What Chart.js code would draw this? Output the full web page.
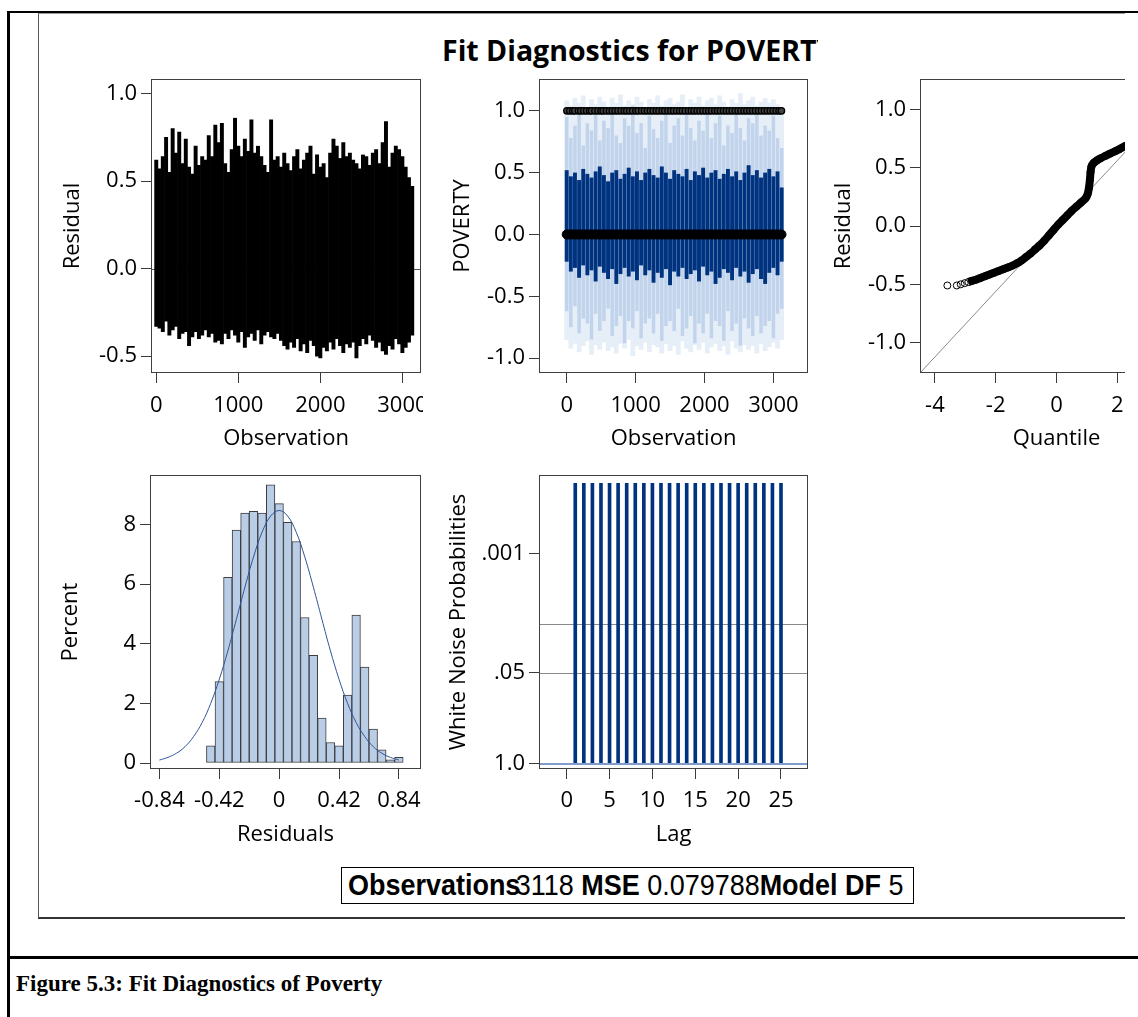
<!DOCTYPE html>
<html>
<head>
<meta charset="utf-8">
<script src="https://cdn.jsdelivr.net/npm/chart.js@4.4.1/dist/chart.umd.min.js"></script>
<style>
  body { margin: 0; background: #fff; width: 1138px; height: 1017px; position: relative; overflow: hidden; }
  .abs { position: absolute; }
  #graph { position: absolute; left: 0; top: 0; width: 1125px; height: 1017px; overflow: hidden; }
  .pan { position: absolute; overflow: hidden; }
  #title { position: absolute; left: 442px; top: 36px; width: 376px; height: 40px; overflow: hidden; white-space: nowrap;
           font: bold 28.5px/28px "Open Sans", sans-serif; color: #000; }
  #stats { position: absolute; left: 341px; top: 867px; width: 571px; height: 35px; border: 1px solid #000; overflow: hidden; }
  #stats .st { position: absolute; left: 6px; top: 1px; white-space: nowrap; font: 29px/33px "Liberation Sans", Arial, sans-serif;
               color: #000; transform: scaleX(0.93); transform-origin: left center; }
  #caption { position: absolute; left: 16px; top: 972px; white-space: nowrap; font: bold 23px/23px "Liberation Serif", "Times New Roman", serif; color: #000; }
</style>
</head>
<body>
<div class="abs" style="left:8px;top:11px;width:1130px;height:2px;background:#000"></div>
<div class="abs" style="left:7px;top:11px;width:3px;height:1006px;background:#000"></div>
<div id="graph">
  <div class="abs" style="left:38px;top:13px;width:1100px;height:903px;border-left:1px solid #555;border-top:1px solid #999;border-bottom:2px solid #333"></div>
  <div id="title">Fit Diagnostics for POVERTY</div>
  <div class="pan" id="p1"><canvas id="c1"></canvas></div>
  <div class="pan" id="p2"><canvas id="c2"></canvas></div>
  <div class="pan" id="p3"><canvas id="c3"></canvas></div>
  <div class="pan" id="p4"><canvas id="c4"></canvas></div>
  <div class="pan" id="p5"><canvas id="c5"></canvas></div>
  <div id="stats"><span class="st"><b>Observations</b><span style="margin-left:-5px">3118</span> <b>MSE</b> 0.079788<b>Model DF</b> 5</span></div>
</div>
<div class="abs" style="left:8px;top:956px;width:1130px;height:3px;background:#000"></div>
<div id="caption">Figure 5.3: Fit Diagnostics of Poverty</div>

<script>
// residuals by observation, sampled every 40 obs (needle tops / bottoms)
const residStep = 40;
const residHi = [0.62,0.57,0.64,0.75,0.55,0.80,0.66,0.78,0.60,0.74,
                 0.58,0.54,0.70,0.59,0.64,0.62,0.76,0.64,0.82,0.72,
                 0.83,0.60,0.55,0.68,0.86,0.70,0.64,0.74,0.67,0.85,
                 0.66,0.70,0.64,0.59,0.55,0.85,0.62,0.64,0.58,0.66,
                 0.60,0.56,0.64,0.68,0.57,0.62,0.66,0.70,0.54,0.65,
                 0.58,0.60,0.52,0.66,0.74,0.70,0.63,0.72,0.64,0.66,
                 0.62,0.60,0.57,0.65,0.64,0.59,0.66,0.68,0.60,0.72,
                 0.84,0.58,0.66,0.70,0.68,0.64,0.58,0.52,0.47];
const residLo = [-0.33,-0.34,-0.36,-0.30,-0.38,-0.35,-0.33,-0.40,-0.37,-0.36,
                 -0.44,-0.39,-0.36,-0.40,-0.38,-0.35,-0.39,-0.37,-0.42,-0.41,
                 -0.43,-0.37,-0.40,-0.35,-0.38,-0.42,-0.36,-0.45,-0.39,-0.37,
                 -0.41,-0.35,-0.43,-0.38,-0.36,-0.39,-0.40,-0.37,-0.41,-0.44,
                 -0.46,-0.42,-0.45,-0.40,-0.47,-0.43,-0.48,-0.41,-0.44,-0.50,
                 -0.51,-0.45,-0.47,-0.42,-0.46,-0.40,-0.44,-0.48,-0.43,-0.45,
                 -0.42,-0.51,-0.44,-0.40,-0.43,-0.38,-0.41,-0.45,-0.42,-0.47,
                 -0.49,-0.44,-0.46,-0.40,-0.43,-0.48,-0.45,-0.42,-0.38];

// predicted POVERTY, sampled every 60 obs: fit band, confidence and prediction limits
const predStep = 60;
const predDarkHi = [0.52,0.47,0.50,0.44,0.53,0.49,0.46,0.51,0.55,0.48,
                    0.43,0.50,0.52,0.45,0.49,0.54,0.47,0.51,0.44,0.50,
                    0.53,0.48,0.46,0.55,0.50,0.45,0.52,0.49,0.47,0.53,
                    0.44,0.51,0.48,0.54,0.46,0.50,0.52,0.45,0.49,0.53,
                    0.47,0.51,0.44,0.50,0.56,0.48,0.52,0.46,0.50,0.53,
                    0.47,0.51,0.38];
const predDarkLo = [-0.22,-0.30,-0.27,-0.35,-0.25,-0.33,-0.29,-0.38,-0.26,-0.31,
                    -0.36,-0.28,-0.40,-0.32,-0.27,-0.34,-0.30,-0.37,-0.25,-0.33,
                    -0.29,-0.39,-0.31,-0.35,-0.28,-0.41,-0.30,-0.34,-0.27,-0.36,
                    -0.32,-0.29,-0.38,-0.26,-0.33,-0.30,-0.40,-0.35,-0.28,-0.31,
                    -0.37,-0.27,-0.34,-0.30,-0.39,-0.32,-0.28,-0.36,-0.40,-0.31,
                    -0.27,-0.33,-0.22];
const predMidHi = [0.95,0.78,0.88,1.02,0.72,0.90,0.84,0.98,0.76,0.92,
                   0.86,1.00,0.80,0.74,0.94,0.88,1.04,0.82,0.90,0.70,
                   0.96,0.85,0.78,0.92,1.00,0.74,0.88,0.94,0.80,0.98,
                   0.86,0.76,0.92,0.84,1.02,0.78,0.90,0.96,0.72,0.88,
                   0.82,0.98,0.86,0.76,0.94,0.90,1.00,0.80,0.88,0.84,
                   0.96,0.78,0.70];
const predMidLo = [-0.62,-0.75,-0.58,-0.80,-0.68,-0.72,-0.85,-0.64,-0.78,-0.70,
                   -0.60,-0.82,-0.74,-0.66,-0.88,-0.70,-0.76,-0.62,-0.84,-0.72,
                   -0.68,-0.80,-0.64,-0.86,-0.74,-0.70,-0.78,-0.60,-0.82,-0.76,
                   -0.66,-0.88,-0.72,-0.80,-0.64,-0.84,-0.70,-0.74,-0.86,-0.62,
                   -0.78,-0.72,-0.90,-0.68,-0.76,-0.82,-0.66,-0.80,-0.74,-0.70,
                   -0.84,-0.64,-0.60];
const predOuterHi = [1.08,1.04,1.10,1.06,1.12,1.02,1.09,1.05,1.11,1.07,
                     1.03,1.10,1.06,1.13,1.04,1.08,1.05,1.11,1.07,1.02,
                     1.09,1.06,1.12,1.04,1.08,1.10,1.05,1.07,1.13,1.03,
                     1.09,1.06,1.11,1.04,1.08,1.10,1.05,1.12,1.07,1.03,
                     1.09,1.06,1.14,1.05,1.08,1.11,1.04,1.07,1.10,1.06,
                     1.09,1.05,1.02];
const predOuterLo = [-0.85,-0.92,-0.88,-0.95,-0.90,-0.86,-0.97,-0.89,-0.93,-0.87,
                     -0.94,-0.91,-0.96,-0.88,-0.92,-0.85,-0.98,-0.90,-0.93,-0.87,
                     -0.95,-0.89,-0.91,-0.96,-0.88,-0.94,-0.90,-0.97,-0.86,-0.92,
                     -0.95,-0.89,-0.93,-0.87,-0.96,-0.91,-0.88,-0.94,-0.90,-0.97,
                     -0.86,-0.92,-0.95,-0.89,-0.93,-0.90,-0.96,-0.88,-0.94,-0.91,
                     -0.87,-0.92,-0.85];

// observed POVERTY = 1 / = 0 (observation numbers)
const povOneObs = [3,45,88,120,171,205,248,290,333,362,410,455,498,530,577,620,661,703,745,790,
                   835,872,915,958,1004,1040,1088,1130,1172,1215,1256,1301,1340,1386,1425,1470,
                   1512,1553,1597,1640,1680,1722,1768,1810,1850,1893,1936,1978,2021,2063,2105,
                   2150,2190,2232,2276,2318,2360,2402,2447,2488,2530,2574,2615,2658,2700,2742,
                   2785,2827,2870,2912,2955,2997,3040,3082,3116];
const povZeroObs = [0,38,79,121,160,199,242,281,320,361,402,440,481,520,562,600,641,680,722,761,
                    800,842,881,920,961,1002,1040,1081,1120,1162,1200,1241,1280,1322,1361,1400,
                    1442,1481,1520,1561,1602,1640,1681,1720,1762,1800,1841,1880,1922,1961,2000,
                    2042,2081,2120,2161,2202,2240,2281,2320,2362,2400,2441,2480,2522,2561,2600,
                    2642,2681,2720,2761,2802,2840,2881,2920,2962,3000,3041,3080,3118];

// Q-Q plot
const qqQuantile = [-3.59,-3.28,-3.15,-3.02,-2.90,-2.78,-2.65,-2.50,-2.35,-2.20,-2.05,-1.90,-1.75,-1.60,
                    -1.45,-1.30,-1.15,-1.00,-0.85,-0.70,-0.55,-0.40,-0.25,-0.10,0.05,0.20,0.35,0.50,
                    0.65,0.80,0.95,1.02,1.07,1.10,1.12,1.15,1.22,1.32,1.45,1.60,1.76,1.92,2.08,2.25,
                    2.42,2.60,2.85,3.15,3.55];
const qqResidual = [-0.51,-0.51,-0.50,-0.49,-0.48,-0.47,-0.46,-0.445,-0.43,-0.415,-0.40,-0.385,-0.37,-0.355,
                    -0.34,-0.32,-0.295,-0.265,-0.235,-0.20,-0.165,-0.125,-0.08,-0.035,0.01,0.05,0.09,0.13,
                    0.165,0.20,0.235,0.27,0.33,0.40,0.46,0.51,0.54,0.56,0.58,0.60,0.62,0.64,0.66,0.685,
                    0.70,0.72,0.75,0.79,0.84];
const qqRefQ = [-4.49, 4.49];
const qqRefR = [-1.26, 1.26];

// residual histogram (bin midpoints, percent) and normal curve
const histMid = [-0.48,-0.42,-0.36,-0.30,-0.24,-0.18,-0.12,-0.06,0,0.06,0.12,0.18,
                 0.24,0.30,0.36,0.42,0.48,0.54,0.60,0.66,0.72,0.78,0.84];
const histPct = [0.58,2.73,6.23,7.81,8.38,8.44,8.38,9.33,8.70,8.07,7.43,4.88,
                 3.61,1.51,0.69,0.58,2.28,4.96,3.22,1.14,0.44,0.11,0.19];
const normX = [-0.84,-0.78,-0.72,-0.66,-0.60,-0.54,-0.48,-0.42,-0.36,-0.30,-0.24,-0.18,-0.12,-0.06,0,
               0.06,0.12,0.18,0.24,0.30,0.36,0.42,0.48,0.54,0.60,0.66,0.72,0.78,0.84];
const normPct = [0.10,0.19,0.33,0.55,0.89,1.36,2.00,2.81,3.76,4.82,5.90,6.91,7.74,8.28,8.47,
                 8.28,7.74,6.91,5.90,4.82,3.76,2.81,2.00,1.36,0.89,0.55,0.33,0.19,0.10];

// white noise test
const wnLag = [1,2,3,4,5,6,7,8,9,10,11,12,13,14,15,16,17,18,19,20,21,22,23,24,25];
const wnProb = [0.0001,0.0001,0.0001,0.0001,0.0001,0.0001,0.0001,0.0001,0.0001,0.0001,0.0001,0.0001,0.0001,
                0.0001,0.0001,0.0001,0.0001,0.0001,0.0001,0.0001,0.0001,0.0001,0.0001,0.0001,0.0001];
const wnRefP = [0.05, 0.01];

// ticks
const residTicks = [-0.5, 0, 0.5, 1.0];
const obsTicks = [0, 1000, 2000, 3000];
const povTicks = [-1.0, -0.5, 0, 0.5, 1.0];
const qqXTicks = [-4, -2, 0, 2, 4];
const qqYTicks = [-1.0, -0.5, 0, 0.5, 1.0];
const histXTicks = [-0.84, -0.42, 0, 0.42, 0.84];
const histXLabels = ['-0.84', '-0.42', '0', '0.42', '0.84'];
const histYTicks = [0, 2, 4, 6, 8];
const lagTicks = [0, 5, 10, 15, 20, 25];
const wnTickP = [1.0, 0.05, 0.001];
const wnTickLabels = ['1.0', '.05', '.001'];

const FONT = { family: '"Open Sans", sans-serif', size: 22 };
const nlog = p => -Math.log10(p);
const fix1 = v => v.toFixed(1);

const linAxis = (o) => ({
  type: 'linear', position: o.pos, min: o.min, max: o.max, offset: false,
  afterBuildTicks: s => { s.ticks = o.ticks.map(v => ({ value: v })); },
  afterFit: s => {
    // fixed axis size, and no extra room for overhanging labels (they get clipped like the original)
    if (o.pos === 'bottom') s.height = o.size; else s.width = o.size;
    s.paddingLeft = s.paddingRight = s.paddingTop = s.paddingBottom = 0;
  },
  grid: { drawOnChartArea: false, drawTicks: true, tickLength: 10, color: '#3a3a3a', lineWidth: 1, offset: false },
  border: { display: false },
  ticks: { color: '#000', font: FONT, padding: o.pad, autoSkip: false, maxRotation: 0,
           callback: (v, i) => o.labels ? o.labels[i] : o.fmt(v) },
  title: { display: true, text: o.title, color: '#000', font: FONT, padding: 0 }
});

// horizontal reference lines through the y scale
const hLines = (under, over) => ({
  id: 'hLines',
  beforeDatasetsDraw(chart) { drawH(chart, under); },
  afterDatasetsDraw(chart) { drawH(chart, over); }
});
function drawH(chart, list) {
  const { ctx, chartArea: c, scales: { y } } = chart;
  list.forEach(l => {
    let py = Math.round(y.getPixelForValue(l.v));
    if (l.w % 2) py += 0.5;
    ctx.save();
    ctx.strokeStyle = l.c; ctx.lineWidth = l.w;
    ctx.beginPath(); ctx.moveTo(c.left, py); ctx.lineTo(c.right, py); ctx.stroke();
    ctx.restore();
  });
}

const frame = {
  id: 'frame',
  afterDraw(chart) {
    const { ctx, chartArea: a } = chart;
    ctx.save();
    ctx.strokeStyle = '#404040'; ctx.lineWidth = 1;
    ctx.strokeRect(Math.round(a.left) + 0.5, Math.round(a.top) + 0.5,
                   Math.round(a.right - a.left) - 1, Math.round(a.bottom - a.top) - 1);
    ctx.restore();
  }
};

function panel(id, type, box, area, datasets, xo, yo, lines) {
  const cv = document.getElementById(id);
  cv.width = box.r - box.l; cv.height = box.b - box.t;
  cv.parentNode.style.cssText = `left:${box.l}px;top:${box.t}px;width:${cv.width}px;height:${cv.height}px`;
  xo.pos = 'bottom'; xo.size = box.b - area.b;
  yo.pos = 'left'; yo.size = area.l - box.l;
  return new Chart(cv, {
    type: type,
    data: { datasets: datasets },
    options: {
      responsive: false, animation: false, events: [],
      layout: { autoPadding: false, padding: { left: 0, top: area.t - box.t, right: box.r - area.r, bottom: 0 } },
      plugins: { legend: { display: false }, tooltip: { enabled: false } },
      scales: { x: linAxis(xo), y: linAxis(yo) }
    },
    plugins: [hLines(lines ? lines.under : [], lines ? lines.over : []), frame]
  });
}

// 1. Residual by observation
panel('c1', 'bar', { l: 60, t: 60, r: 423, b: 452 }, { l: 151, t: 79, r: 421, b: 373 },
  [{ data: residHi.map((v, i) => ({ x: i * residStep, y: [residLo[i], v] })),
     backgroundColor: '#000', barPercentage: 1, categoryPercentage: 1 }],
  { min: -64, max: 3227, ticks: obsTicks, fmt: v => String(v), pad: 10, title: 'Observation' },
  { min: -0.596, max: 1.084, ticks: residTicks, fmt: fix1, pad: 4, title: 'Residual' },
  { under: [{ v: 0, c: '#555', w: 1 }], over: [] });

// 2. POVERTY by observation with fit and limits
const predBars = (hi, lo, color, pct, order) => ({
  type: 'bar', data: hi.map((v, i) => ({ x: i * predStep, y: [lo[i], v] })),
  backgroundColor: color, grouped: false, barPercentage: pct, categoryPercentage: 1, order: order
});
panel('c2', 'bar', { l: 450, t: 60, r: 840, b: 452 }, { l: 539, t: 79, r: 808, b: 373 },
  [predBars(predOuterHi, predOuterLo, '#e6eef8', 1, 5),
   predBars(predMidHi, predMidLo, '#c2d4eb', 0.85, 4),
   predBars(predDarkHi, predDarkLo, '#00337f', 0.95, 3),
   { type: 'line', showLine: false, data: povOneObs.map(x => ({ x: x, y: 1 })), order: 2,
     pointRadius: 3.2, pointBorderWidth: 1.4, pointBorderColor: '#000', pointBackgroundColor: '#444' },
   { type: 'line', showLine: false, data: povZeroObs.map(x => ({ x: x, y: 0 })), order: 1,
     pointRadius: 4.5, pointBorderWidth: 1, pointBorderColor: '#000', pointBackgroundColor: '#000' }],
  { min: -402, max: 3502, ticks: obsTicks, fmt: v => String(v), pad: 10, title: 'Observation' },
  { min: -1.12, max: 1.257, ticks: povTicks, fmt: fix1, pad: 4, title: 'POVERTY' });

// 3. Q-Q plot of residuals
const qqPts = qqQuantile.map((q, i) => ({ x: q, y: qqResidual[i] }));
panel('c3', 'scatter', { l: 831, t: 60, r: 1200, b: 452 }, { l: 920, t: 79, r: 1193, b: 373 },
  [{ type: 'scatter', data: qqPts, order: 1, pointRadius: 3.5, pointBorderWidth: 1,
     pointBorderColor: '#000', pointBackgroundColor: 'rgba(0,0,0,0)' },
   { type: 'line', data: qqPts.filter(p => p.x > -2.95), order: 2, borderColor: '#000', borderWidth: 8,
     pointRadius: 0, tension: 0.3, fill: false },
   { type: 'line', data: qqRefQ.map((q, i) => ({ x: q, y: qqRefR[i] })), order: 3,
     borderColor: '#8a8a8a', borderWidth: 1, pointRadius: 0, fill: false }],
  { min: -4.49, max: 4.49, ticks: qqXTicks, fmt: v => String(v), pad: 10, title: 'Quantile' },
  { min: -1.26, max: 1.26, ticks: qqYTicks, fmt: fix1, pad: 4, title: 'Residual' });

// 4. Residual histogram
panel('c4', 'bar', { l: 58, t: 460, r: 430, b: 848 }, { l: 150, t: 475, r: 421, b: 769 },
  [{ type: 'bar', data: histMid.map((m, i) => ({ x: m, y: histPct[i] })), order: 2,
     backgroundColor: '#b9cde6', borderColor: '#3d3d3d', borderWidth: 1, borderSkipped: false,
     barPercentage: 1, categoryPercentage: 1 },
   { type: 'line', data: normX.map((x, i) => ({ x: x, y: normPct[i] })), order: 1,
     borderColor: '#2f5597', borderWidth: 1, pointRadius: 0, tension: 0.4, fill: false }],
  { min: -0.906, max: 0.995, ticks: histXTicks, labels: histXLabels, pad: 9, title: 'Residuals' },
  { min: -0.2, max: 9.66, ticks: histYTicks, fmt: v => String(v), pad: 4, title: 'Percent' });

// 5. White noise probabilities by lag
panel('c5', 'bar', { l: 446, t: 460, r: 830, b: 848 }, { l: 539, t: 475, r: 808, b: 769 },
  [{ type: 'bar', data: wnLag.map((l, i) => ({ x: l, y: nlog(wnProb[i]) })),
     backgroundColor: '#00337f', barThickness: 3 }],
  { min: -3.23, max: 28.15, ticks: lagTicks, fmt: v => String(v), pad: 9, title: 'Lag' },
  { min: -0.076, max: 4.12, ticks: wnTickP.map(nlog), labels: wnTickLabels, pad: 4, title: 'White Noise Probabilities' },
  { under: wnRefP.map(p => ({ v: nlog(p), c: '#8a8a8a', w: 1 })), over: [{ v: 0, c: '#7f9ccc', w: 2 }] });
</script>
</body>
</html>
